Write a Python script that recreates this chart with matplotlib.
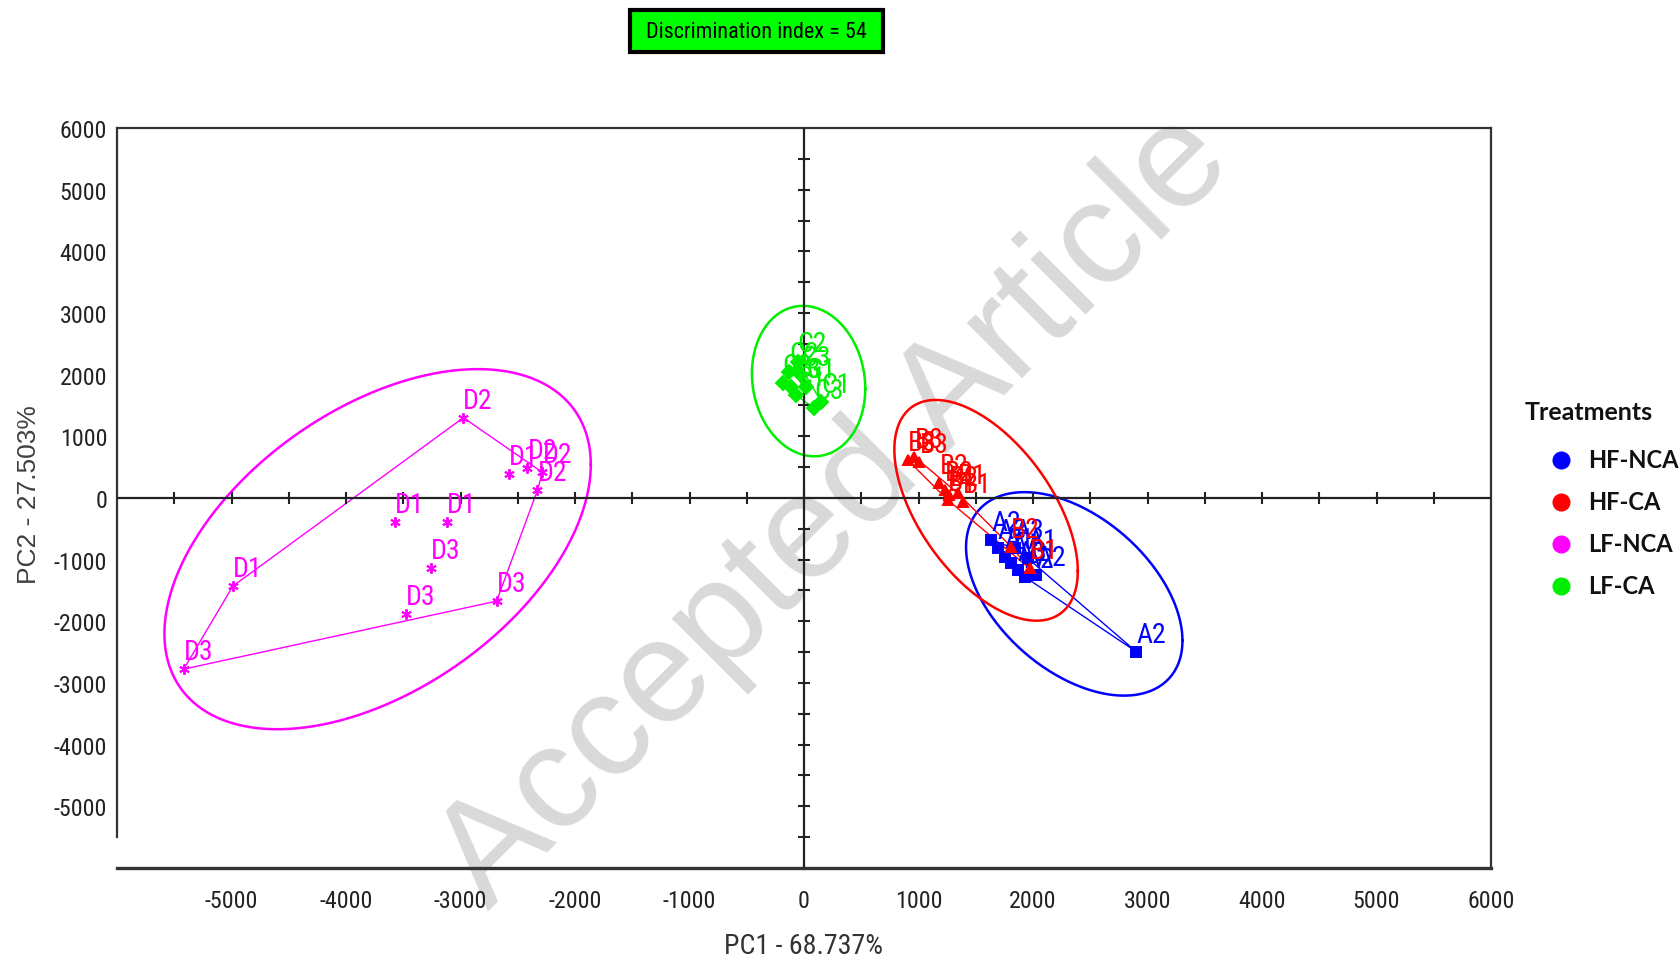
"""PCA score plot (PC1 vs PC2) with group ellipses, like the e-nose software output."""

import matplotlib

matplotlib.use("Agg")
import matplotlib.pyplot as plt
from matplotlib import font_manager as fm
from matplotlib.font_manager import FontProperties
from matplotlib.lines import Line2D
from matplotlib.patches import Rectangle
import numpy as np

plt.rcParams["axes.unicode_minus"] = False

# ---- data ----
groups = ["HF-NCA", "HF-CA", "LF-NCA", "LF-CA"]
group_colors = ["#0000ff", "#ff0000", "#ff00ff", "#00ee00"]
group_markers = ["s", "^", (6, 2, 0), "D"]

hf_nca_x = [1635, 1693, 1751, 1809, 1868, 1926, 2028, 1955, 1839, 2902]
hf_nca_y = [-683, -818, -952, -1061, -1169, -1277, -1250, -980, -818, -2493]
hf_nca_lab = ["A2", "A3", "A1", "A1", "A3", "A2", "A2", "A1", "A3", "A2"]

hf_ca_x = [906, 964, 1008, 1183, 1227, 1270, 1256, 1344, 1388, 1809, 1970]
hf_ca_y = [615, 670, 589, 237, 128, 47, -34, 75, -60, -790, -1142]
hf_ca_lab = ["B3", "B3", "B3", "B2", "B2", "B2", "B1", "B1", "B1", "B2", "B1"]

lf_nca_x = [-2975, -2576, -2415, -2284, -2328, -3572, -3115, -3260, -2684, -3473, -5417, -4988]
lf_nca_y = [1302, 383, 491, 415, 128, -385, -385, -1142, -1672, -1888, -2775, -1429]
lf_nca_lab = ["D2", "D1", "D2", "D2", "D2", "D1", "D1", "D3", "D3", "D3", "D3", "D1"]

lf_ca_x = [-186, -128, -114, -55, -26, -70, 17, 90, 149]
lf_ca_y = [1859, 2049, 1805, 2211, 1993, 1669, 1805, 1453, 1562]
lf_ca_lab = ["C2", "C2", "C3", "C2", "C3", "C1", "C1", "C3", "C1"]

# ellipse per group: centre x, centre y, half width, half height, correlation
ellipses = [
    (2360, -1555, 945, 1650, -0.46),
    (1590, -200, 801, 1790, -0.55),
    (-3724, -830, 1862, 2920, 0.47),
    (40, 1896, 495, 1220, -0.10),
]

xs = [hf_nca_x, hf_ca_x, lf_nca_x, lf_ca_x]
ys = [hf_nca_y, hf_ca_y, lf_nca_y, lf_ca_y]
labs = [hf_nca_lab, hf_ca_lab, lf_nca_lab, lf_ca_lab]

x_ticks = list(range(-5000, 6001, 1000))
y_ticks = list(range(-5000, 6001, 1000))


def find_narrow():
    """Pick a condensed face if one is installed, else plain Liberation Sans."""
    fonts = fm.fontManager.ttflist
    for name, scale in [("Liberation Sans Narrow", 1.0), ("Arial Narrow", 1.0),
                        ("Roboto Condensed", 1.05)]:
        for f in fonts:
            if f.name == name and f.style == "normal" and f.weight in (400, "normal", "regular"):
                return f.fname, scale
    for f in fonts:
        if "DejaVuSansCondensed.ttf" in f.fname:
            return f.fname, 0.9
    return fm.findfont(FontProperties(family="Liberation Sans")), 0.9


NARROW_FILE, NARROW_SCALE = find_narrow()


def narrow(size):
    return FontProperties(fname=NARROW_FILE, size=size * NARROW_SCALE)


def ellipse_xy(cx, cy, w, h, rho, n=300):
    t = np.linspace(0, 2 * np.pi, n)
    d = np.arccos(rho)
    return cx + w * np.cos(t), cy + h * np.cos(t - d)


def convex_hull(px, py):
    pts = sorted(set(zip(px, py)))

    def cross(o, a, b):
        return (a[0] - o[0]) * (b[1] - o[1]) - (a[1] - o[1]) * (b[0] - o[0])

    lower, upper = [], []
    for p in pts:
        while len(lower) >= 2 and cross(lower[-2], lower[-1], p) <= 0:
            lower.pop()
        lower.append(p)
    for p in reversed(pts):
        while len(upper) >= 2 and cross(upper[-2], upper[-1], p) <= 0:
            upper.pop()
        upper.append(p)
    hull = lower[:-1] + upper[:-1]
    return hull + hull[:1]


fig = plt.figure(figsize=(16.81, 9.62), dpi=100)
ax = fig.add_axes([0.0696, 0.0967, 0.8174, 0.7692])
ax.set_facecolor("none")
ax.set_xlim(-6000, 6000)
ax.set_ylim(-6000, 6000)

# zero cross with its own small ticks
minor = np.arange(-5500, 5501, 500)
ax.axhline(0, color="#222222", lw=1.6, zorder=4)
ax.axvline(0, color="#222222", lw=1.6, zorder=4)
ax.plot(minor, np.zeros_like(minor), ls="", marker="|", ms=8, mew=1.5, color="#222222", zorder=4)
ax.plot(np.zeros_like(minor), minor, ls="", marker="_", ms=8, mew=1.5, color="#222222", zorder=4)

for gx, gy, gl, col, mk, ell in zip(xs, ys, labs, group_colors, group_markers, ellipses):
    ex, ey = ellipse_xy(*ell)
    ax.plot(ex, ey, color=col, lw=1.8, zorder=3)
    hull = convex_hull(gx, gy)
    ax.plot([p[0] for p in hull], [p[1] for p in hull], color=col, lw=1, zorder=3)
    ax.plot(gx, gy, ls="", marker=mk, color=col, ms=7.5, mew=1.4, zorder=5)
    for x, y, t in zip(gx, gy, gl):
        ax.annotate(t, (x, y), xytext=(0, 3), textcoords="offset points",
                    color=col, fontproperties=narrow(19), ha="left", va="bottom", zorder=5)

ax.set_xticks(x_ticks)
ax.set_yticks(y_ticks)
ax.tick_params(axis="both", length=0, colors="#222222")
ax.tick_params(axis="x", pad=15)
ax.tick_params(axis="y", pad=7)
for lbl in ax.get_xticklabels() + ax.get_yticklabels():
    lbl.set_fontproperties(narrow(16.5))
for side in ["left", "right", "top", "bottom"]:
    ax.spines[side].set_color("#333333")
    ax.spines[side].set_linewidth(1.6)
ax.spines["bottom"].set_linewidth(2.4)
ax.spines["left"].set_bounds(-5500, 6000)

fig.text(0.478, 0.0166, "PC1 - 68.737%", fontproperties=narrow(19.2), color="#333333",
         ha="center", va="center")
fig.text(0.0175, 0.486, "PC2 - 27.503%", fontsize=19, family="Liberation Sans", color="#404040",
         rotation=90, ha="center", va="center")

# title box
fig.add_artist(Rectangle((0.3748, 0.945), 0.1505, 0.0437, transform=fig.transFigure,
                         facecolor="#00ff00", edgecolor="black", lw=3))
fig.text(0.450, 0.9667, "Discrimination index = 54", fontproperties=narrow(15.2),
         ha="center", va="center")

# legend
fig.text(0.9072, 0.5717, "Treatments", fontsize=18, weight="bold", family="Lato",
         ha="left", va="center", color="#111111")
for i, (name, col) in enumerate(zip(groups, group_colors)):
    yy = 0.5208 - i * 42 / 962
    fig.add_artist(Line2D([0.9286], [yy], marker="o", ls="", color=col, ms=12,
                          transform=fig.transFigure))
    fig.text(0.9447, yy, name, fontsize=17, weight="bold", family="Lato",
             ha="left", va="center", color="#111111")

# watermark
fig.text(0.497, 0.468, "Accepted Article", fontsize=106, family="Liberation Sans",
         color="#d9d9d9", rotation=45, ha="center", va="center", zorder=-1)

fig.savefig("out.png", dpi=100)
